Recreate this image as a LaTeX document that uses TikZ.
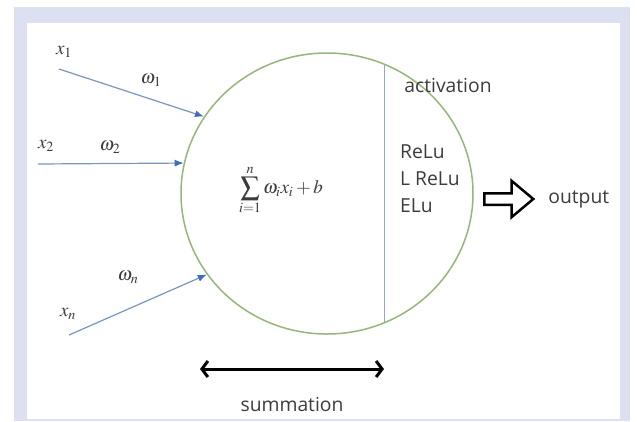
\documentclass[tikz,border=0pt]{standalone}
\usepackage{mathptmx}
\usepackage{fontspec}
\setmainfont{Open Sans}
\usetikzlibrary{shapes.geometric, shapes.arrows, arrows.meta, positioning, calc}
\definecolor{framelav}{RGB}{221, 224, 240}
\definecolor{cellgreen}{RGB}{150, 182, 122}
\definecolor{inblue}{RGB}{120, 150, 192}
\definecolor{tipblue}{RGB}{62, 108, 190}
\definecolor{splitgray}{RGB}{145, 168, 192}
\definecolor{wordgray}{RGB}{60, 60, 60}
\newcommand{\wordsize}{\fontsize{19.3}{27}\selectfont}
\newcommand{\labelsize}{\fontsize{19}{22}\selectfont}

\begin{document}
\begin{tikzpicture}[x=1pt, y=-1pt,
  inarrow/.style={-{Latex[length=9pt, width=7pt, color=tipblue]}, inblue, line width=1.2pt},
  lbl/.style={font=\labelsize, inner sep=0pt, text=wordgray},
  word/.style={font=\wordsize, text=wordgray, inner sep=0pt}]
  \useasboundingbox (0,0) rectangle (637,421);

  % frame
  \fill[framelav] (14,7) rectangle (630,421);
  \fill[white] (27,23) rectangle (620,419);

  % neuron body
  \node[ellipse, draw=cellgreen, line width=1.5pt, minimum width=292pt, minimum height=281pt, inner sep=0pt] (neuron) at (327,193.5) {};
  \draw[splitgray, line width=1.2pt] (neuron.66.2) -- (neuron.-66.2);

  % inputs
  \coordinate (xonestart) at (59,69);
  \coordinate (xtwostart) at (38,164);
  \coordinate (xnstart) at (69,335);
  \draw[inarrow] (xonestart) -- (neuron.148.7);
  \draw[inarrow] (xtwostart) -- (neuron.168.3);
  \draw[inarrow] (xnstart) -- (neuron.214.8);

  \node[lbl] (xone) at (64,52) {$x_1$};
  \node[lbl] (wone) at (151,80) {$\omega_1$};
  \node[lbl] (xtwo) at (46,146) {$x_2$};
  \node[lbl] (wtwo) at (110,147) {$\omega_2$};
  \node[lbl] (wn) at (128,277) {$\omega_n$};
  \node[lbl] (xn) at (68,314) {$x_n$};

  % weighted sum
  \node[font=\fontsize{19}{22}\selectfont, inner sep=0pt, text=wordgray] (wsum) at (281,190) {$\displaystyle\sum_{i=1}^{n}\omega_i x_i + b$};

  % activation part
  \node[word] (actlabel) at (448,86) {activation};
  \node[word, align=left, anchor=west] (actlist) at (400,179) {ReLu\\L ReLu\\ELu};

  % output
  \node[single arrow, draw=black, fill=white, line width=2.5pt, inner xsep=0pt, inner ysep=4.5pt,
        single arrow head extend=12.5pt, single arrow tip angle=80, minimum height=49pt,
        anchor=tail] (outarrow) at (483,199) {};
  \node[word, anchor=west, right=13pt of outarrow.tip] (outlabel) {output};

  % summation span
  \coordinate (sumleft) at (200,369);
  \coordinate (sumright) at (384,369);
  \draw[line width=3pt, {Straight Barb[length=6pt, width=16pt]}-{Straight Barb[length=6pt, width=16pt]}] (sumleft) -- (sumright);
  \node[word] (sumlabel) at (292,405) {summation};
\end{tikzpicture}
\end{document}
